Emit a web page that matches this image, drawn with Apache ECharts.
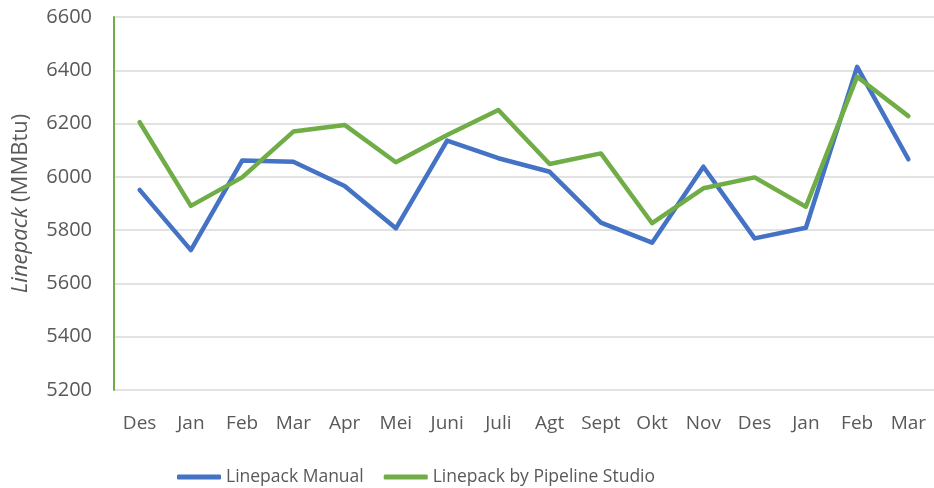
<!DOCTYPE html>
<html><head><meta charset="utf-8">
<script src="https://cdn.jsdelivr.net/npm/echarts@6/dist/echarts.min.js"></script>
<style>html,body{margin:0;padding:0;background:#fff}#c{width:934px;height:488px}</style>
</head><body><div id="c"></div>
<script>
const categories = ['Des','Jan','Feb','Mar','Apr','Mei','Juni','Juli','Agt','Sept','Okt','Nov','Des','Jan','Feb','Mar'];
const manual = [5951,5725,6061,6057,5966,5807,6136,6070,6019,5828,5753,6038,5769,5809,6413,6066];
const pipelineStudio = [6205,5891,5998,6170,6195,6055,6157,6251,6048,6088,5826,5957,5998,5888,6376,6228];
const yTicks = {min:5200, max:6600, interval:200};

const font = '"Open Sans", "Noto Sans", sans-serif';
const chart = echarts.init(document.getElementById('c'), null, {renderer:'canvas'});
chart.setOption({
  animation:false,
  backgroundColor:'#fff',
  grid:{left:114, right:0, top:17, bottom:98, containLabel:false, outerBoundsMode:'none'},
  legend:{
    top:463, left:172,
    icon:'roundRect',
    itemWidth:44, itemHeight:5, itemGap:20,
    textStyle:{fontFamily:font, fontSize:17.5, color:'#595959'},
    data:['Linepack Manual','Linepack by Pipeline Studio']
  },
  xAxis:{
    type:'category', data:categories, boundaryGap:true,
    axisLine:{show:false}, axisTick:{show:false},
    axisLabel:{fontFamily:font, fontSize:19, color:'#595959', margin:24, interval:0}
  },
  yAxis:{
    type:'value', min:yTicks.min, max:yTicks.max, interval:yTicks.interval,
    name:'{i|Linepack} (MMBtu)', nameLocation:'middle', nameGap:82,
    nameTextStyle:{fontFamily:font, fontSize:22, color:'#595959',
      rich:{i:{fontStyle:'italic', fontFamily:font, fontSize:22, color:'#595959'}}},
    axisLine:{show:true, lineStyle:{color:'#70AD47', width:2}},
    axisTick:{show:false},
    axisLabel:{fontFamily:font, fontSize:20, color:'#595959', margin:22,
      formatter:function(v){return String(v);}},
    splitLine:{lineStyle:{color:'#d9d9d9', width:1.5}}
  },
  series:[
    {name:'Linepack Manual', type:'line', data:manual, symbol:'none',
     lineStyle:{color:'#4472C4', width:4.5, cap:'round', join:'round'}, itemStyle:{color:'#4472C4'}},
    {name:'Linepack by Pipeline Studio', type:'line', data:pipelineStudio, symbol:'none',
     lineStyle:{color:'#70AD47', width:4.5, cap:'round', join:'round'}, itemStyle:{color:'#70AD47'}}
  ]
});
</script></body></html>
